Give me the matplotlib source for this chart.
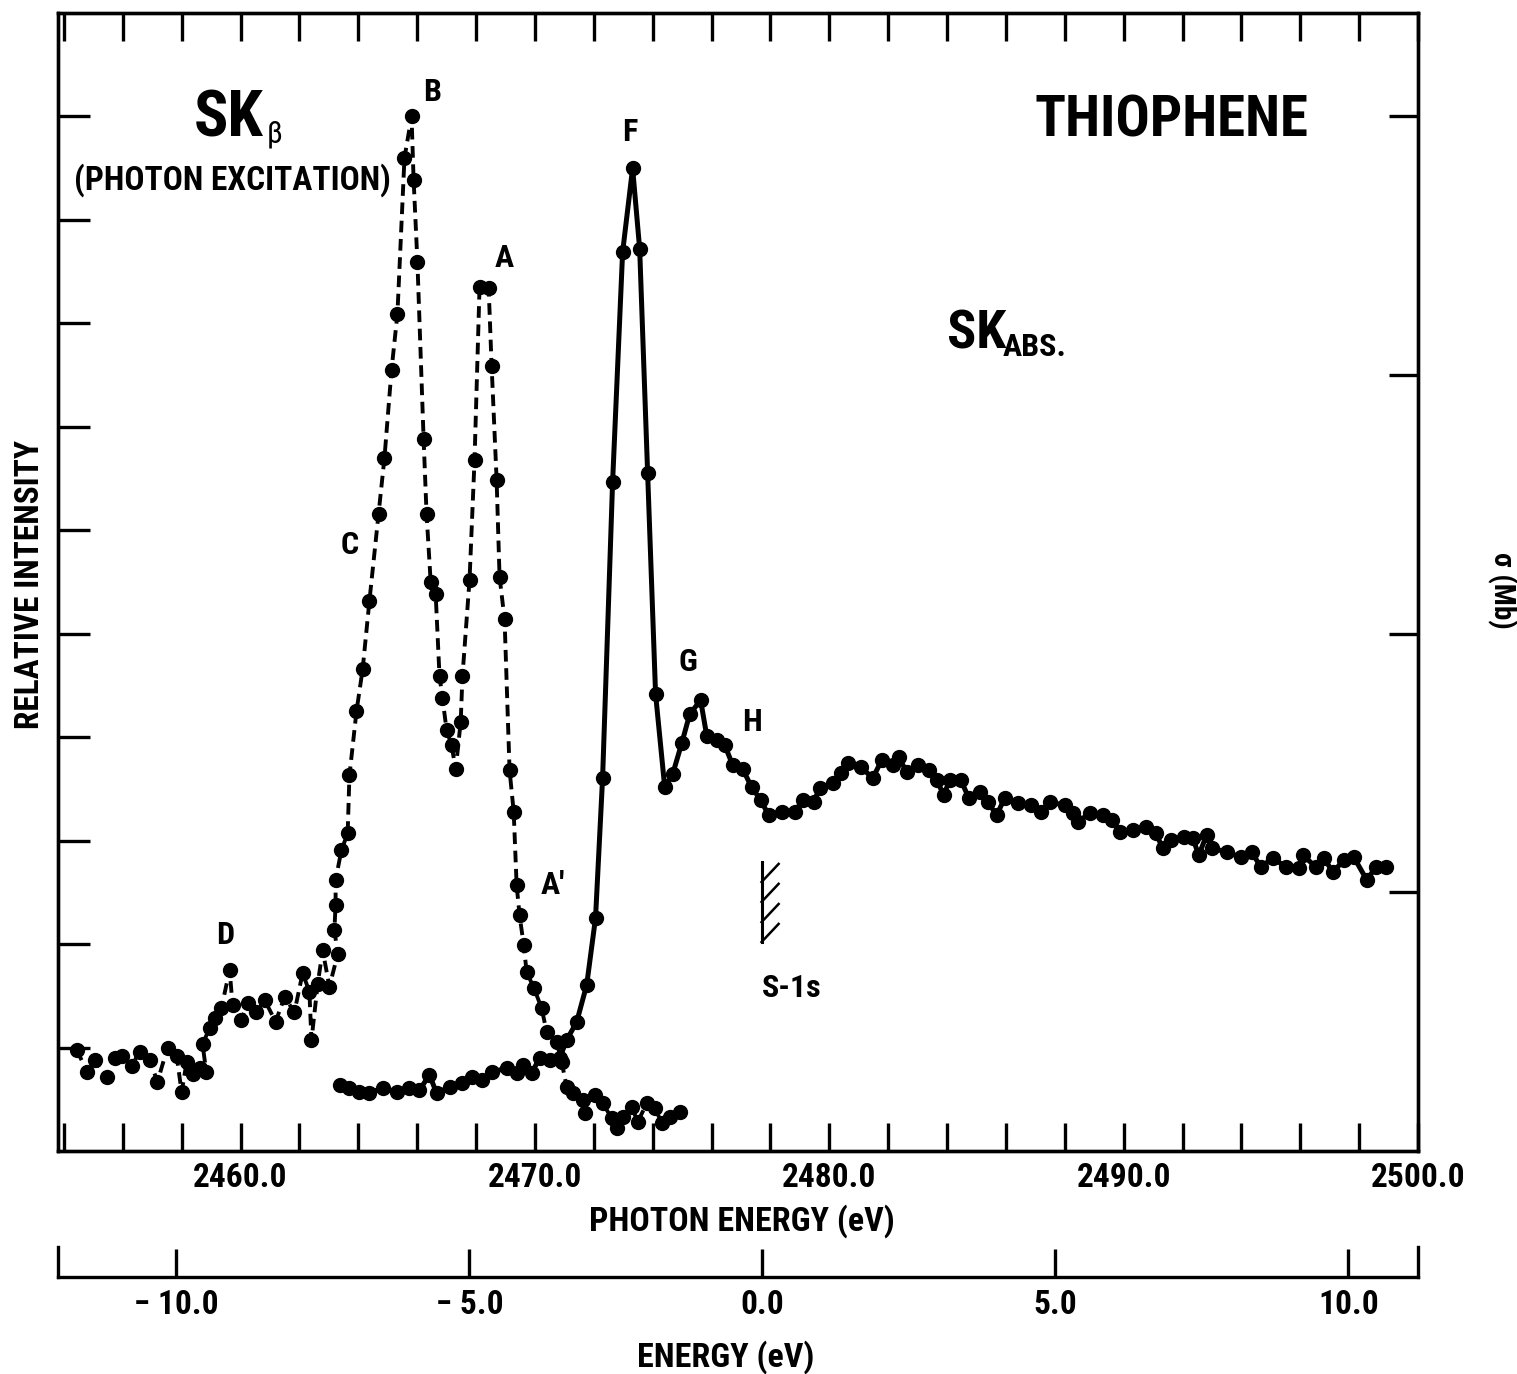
import matplotlib
matplotlib.use("Agg")
import matplotlib.pyplot as plt
import matplotlib.font_manager as fm
from matplotlib.ticker import FixedLocator, FuncFormatter

# ---------------- data ----------------
# SK-beta emission (relative intensity, left axis)
emis_x = [2454.43, 2454.80, 2455.04, 2455.45, 2455.72, 2455.99, 2456.30, 2456.57, 2456.91, 2457.18,
          2457.52, 2457.83, 2458.00, 2458.17, 2458.37, 2458.61, 2458.84, 2458.71, 2458.95, 2459.12,
          2459.35, 2459.63, 2459.73, 2460.03, 2460.24, 2460.54, 2460.82, 2461.19, 2461.50, 2461.83,
          2462.11, 2462.34, 2462.41, 2462.62, 2462.79, 2463.02, 2463.30, 2463.19, 2463.23, 2463.23,
          2463.43, 2463.64, 2463.70, 2463.94, 2464.15, 2464.38, 2464.69, 2464.89, 2465.13, 2465.33,
          2465.57, 2465.81, 2465.88, 2466.01, 2466.22, 2466.32, 2466.46, 2466.63, 2466.76, 2466.86,
          2467.00, 2467.17, 2467.31, 2467.48, 2467.54, 2467.78, 2467.95, 2468.12, 2468.43, 2468.53,
          2468.70, 2468.80, 2468.97, 2469.14, 2469.28, 2469.38, 2469.48, 2469.62, 2469.72, 2469.96,
          2470.23, 2470.40, 2470.74, 2470.91, 2471.08, 2471.28, 2471.62, 2471.69, 2472.03, 2472.30,
          2472.61, 2472.78, 2472.98, 2473.29, 2473.49, 2473.80, 2474.07, 2474.31, 2474.58, 2474.92]
emis_y = [0.98, 0.76, 0.88, 0.72, 0.90, 0.92, 0.82, 0.96, 0.88, 0.67,
          1.00, 0.92, 0.57, 0.86, 0.74, 0.80, 0.76, 1.03, 1.19, 1.29,
          1.38, 1.75, 1.41, 1.27, 1.43, 1.34, 1.46, 1.25, 1.49, 1.34,
          1.72, 1.54, 1.07, 1.61, 1.94, 1.59, 1.90, 2.14, 2.38, 2.62,
          2.91, 3.07, 3.63, 4.25, 4.66, 5.32, 6.16, 6.70, 7.55, 8.09,
          9.60, 10.00, 9.39, 8.59, 6.88, 6.16, 5.50, 5.38, 4.59, 4.38,
          4.07, 3.92, 3.69, 4.15, 4.59, 5.52, 6.68, 8.35, 8.34, 7.59,
          6.49, 5.55, 5.14, 3.68, 3.28, 2.57, 2.28, 1.99, 1.73, 1.58,
          1.38, 1.15, 1.05, 0.86, 0.62, 0.56, 0.49, 0.37, 0.54, 0.46,
          0.32, 0.22, 0.33, 0.43, 0.28, 0.46, 0.42, 0.27, 0.33, 0.38]

# SK absorption (sigma, right axis)
abs_x = [2463.37, 2463.70, 2464.04, 2464.38, 2464.83, 2465.30, 2465.74, 2466.08, 2466.42, 2466.66,
         2467.10, 2467.54, 2467.88, 2468.22, 2468.56, 2469.04, 2469.38, 2469.58, 2469.89, 2470.16,
         2470.50, 2470.84, 2471.08, 2471.42, 2471.76, 2472.06, 2472.30, 2472.64, 2472.98, 2473.32,
         2473.56, 2473.83, 2474.10, 2474.41, 2474.68, 2474.99, 2475.26, 2475.63, 2475.84, 2476.18,
         2476.45, 2476.72, 2477.06, 2477.36, 2477.67, 2477.94, 2478.38, 2478.82, 2479.10, 2479.47,
         2479.67, 2480.12, 2480.39, 2480.63, 2481.07, 2481.48, 2481.78, 2482.16, 2482.36, 2482.63,
         2483.00, 2483.38, 2483.65, 2483.89, 2484.09, 2484.47, 2484.74, 2485.11, 2485.38, 2485.69,
         2485.96, 2486.40, 2486.85, 2487.18, 2487.49, 2488.00, 2488.27, 2488.44, 2488.85, 2489.29,
         2489.60, 2489.87, 2490.31, 2490.75, 2491.09, 2491.33, 2491.60, 2492.04, 2492.35, 2492.55,
         2492.82, 2492.99, 2493.50, 2493.98, 2494.35, 2494.66, 2495.07, 2495.51, 2495.95, 2496.09,
         2496.53, 2496.80, 2497.11, 2497.48, 2497.82, 2498.26, 2498.57, 2498.91]
abs_y = [0.255, 0.244, 0.228, 0.224, 0.244, 0.228, 0.244, 0.236, 0.294, 0.224,
         0.247, 0.263, 0.286, 0.274, 0.305, 0.321, 0.302, 0.332, 0.302, 0.359,
         0.352, 0.359, 0.429, 0.499, 0.642, 0.901, 1.442, 2.586, 3.475, 3.800,
         3.487, 2.621, 1.767, 1.407, 1.457, 1.577, 1.689, 1.743, 1.604, 1.589,
         1.569, 1.492, 1.477, 1.407, 1.357, 1.299, 1.310, 1.310, 1.357, 1.349,
         1.403, 1.423, 1.461, 1.500, 1.484, 1.442, 1.511, 1.492, 1.523, 1.465,
         1.492, 1.473, 1.434, 1.376, 1.434, 1.434, 1.365, 1.388, 1.349, 1.299,
         1.365, 1.345, 1.337, 1.310, 1.349, 1.337, 1.306, 1.272, 1.306, 1.299,
         1.279, 1.233, 1.241, 1.252, 1.229, 1.171, 1.202, 1.214, 1.210, 1.144,
         1.221, 1.171, 1.156, 1.136, 1.156, 1.098, 1.133, 1.098, 1.094, 1.144,
         1.098, 1.133, 1.078, 1.125, 1.136, 1.048, 1.098, 1.098]

photon_ticks = [2454 + 2 * i for i in range(24)]
photon_labels = [2460, 2470, 2480, 2490, 2500]
energy_ticks = [-10.0, -5.0, 0.0, 5.0, 10.0]
energy_labels = ["\u2212 10.0", "\u2212 5.0", "0.0", "5.0", "10.0"]
left_ticks = list(range(1, 11))
right_ticks = [1, 2, 3, 4]

# ---------------- fonts ----------------
names = {f.name for f in fm.fontManager.ttflist}
FONT = "DejaVu Sans"
STRETCH = "normal"
for cand in ["Liberation Sans Narrow", "DejaVu Sans Condensed", "Roboto Condensed", "Open Sans Condensed"]:
    if cand in names:
        FONT = cand
        break
else:
    STRETCH = "condensed"
plt.rcParams["font.family"] = [FONT, "DejaVu Sans"]
plt.rcParams["font.weight"] = "bold"
plt.rcParams["font.stretch"] = STRETCH

W, H = 1517, 1374
fig = plt.figure(figsize=(W / 100, H / 100), dpi=100)

L, R, T, B = 58, 1418, 13, 1151
ax = fig.add_axes([L / W, 1 - B / H, (R - L) / W, (B - T) / H])
ax2 = ax.twinx()

XMIN, XMAX = 2453.8, 2500.0
ax.set_xlim(XMIN, XMAX)
ax.set_ylim(0, 11.0)
ax2.set_ylim(0, 4.40)

LW = 2.4
for a in (ax, ax2):
    for s in a.spines.values():
        s.set_linewidth(LW)

# emission: dashed with dots
ax.plot(emis_x, emis_y, color="black", lw=2.8, linestyle=(0, (3.0, 1.7)),
        marker="o", markersize=10, markerfacecolor="black", markeredgecolor="black")
# absorption: solid with dots
ax2.plot(abs_x, abs_y, color="black", lw=3.6, linestyle="-",
         marker="o", markersize=10, markerfacecolor="black", markeredgecolor="black")

# ticks
ax.xaxis.set_major_locator(FixedLocator(photon_ticks))
ax.xaxis.set_major_formatter(FuncFormatter(
    lambda v, p: f"{v:.1f}" if round(v) in photon_labels else ""))
ax.xaxis.set_minor_locator(FixedLocator([2470, 2480, 2490]))
ax.tick_params(axis="x", which="major", direction="in", length=20, width=LW,
               top=True, labeltop=False, pad=8, labelsize=24)
ax.tick_params(axis="x", which="minor", direction="in", length=30, width=LW,
               top=False, bottom=True)
ax.set_yticks(left_ticks)
ax.set_yticklabels([])
ax.tick_params(axis="y", direction="in", length=23, width=LW, left=True, right=False)
ax2.set_yticks(right_ticks)
ax2.set_yticklabels([])
ax2.tick_params(axis="y", direction="in", length=21, width=LW, right=True, left=False)

# S-1s threshold marker
e0 = 2477.7
ax2.plot([e0, e0], [0.808, 1.117], color="black", lw=2.2)
for y0 in [0.808, 0.885, 0.963, 1.040]:
    ax2.plot([e0, e0 + 0.58], [y0, y0 + 0.07], color="black", lw=1.8)

# second (relative energy) axis
EY = 1277
ax3 = fig.add_axes([L / W, 1 - EY / H, (R - L) / W, 30 / H])
ax3.set_xlim(-12.02, 11.19)
ax3.set_ylim(0, 1)
ax3.patch.set_alpha(0)
ax3.spines["top"].set_visible(False)
for s in ("left", "right", "bottom"):
    ax3.spines[s].set_linewidth(LW)
ax3.set_yticks([])
ax3.set_xticks(energy_ticks)
ax3.set_xticklabels(energy_labels)
ax3.tick_params(axis="x", direction="in", length=20, width=LW, pad=9, labelsize=24)


def ftext(px, py, s, size, **kw):
    kw.setdefault("ha", "center")
    kw.setdefault("va", "center")
    kw.setdefault("fontweight", "bold")
    fig.text(px / W, 1 - py / H, s, fontsize=size, **kw)


# axis labels
ftext(742, 1221, "PHOTON ENERGY (eV)", 24.5)
ftext(726, 1357, "ENERGY (eV)", 24.5)
ftext(30, 585, "RELATIVE INTENSITY", 24, rotation=90)
ftext(1502, 590, "\u03c3 (Mb)", 21, rotation=-90)

# titles / annotations
ftext(1172, 121, "THIOPHENE", 41)
ftext(194, 119, "SK", 46, ha="left")
ftext(267, 134, "\u03b2", 22, ha="left", fontweight="normal")
ftext(232, 180, "(PHOTON EXCITATION)", 24)
ftext(947, 334, "SK", 39, ha="left")
ftext(1003, 347, "ABS.", 23, ha="left")

for px, py, s in [(432, 92, "B"), (504, 258, "A"), (350, 545, "C"), (225, 935, "D"),
                  (553, 885, "A\u2032"), (630, 132, "F"), (688, 662, "G"), (752, 722, "H"),
                  (792, 988, "S-1s")]:
    ftext(px, py, s, 23)

fig.savefig("out.png", dpi=100)
